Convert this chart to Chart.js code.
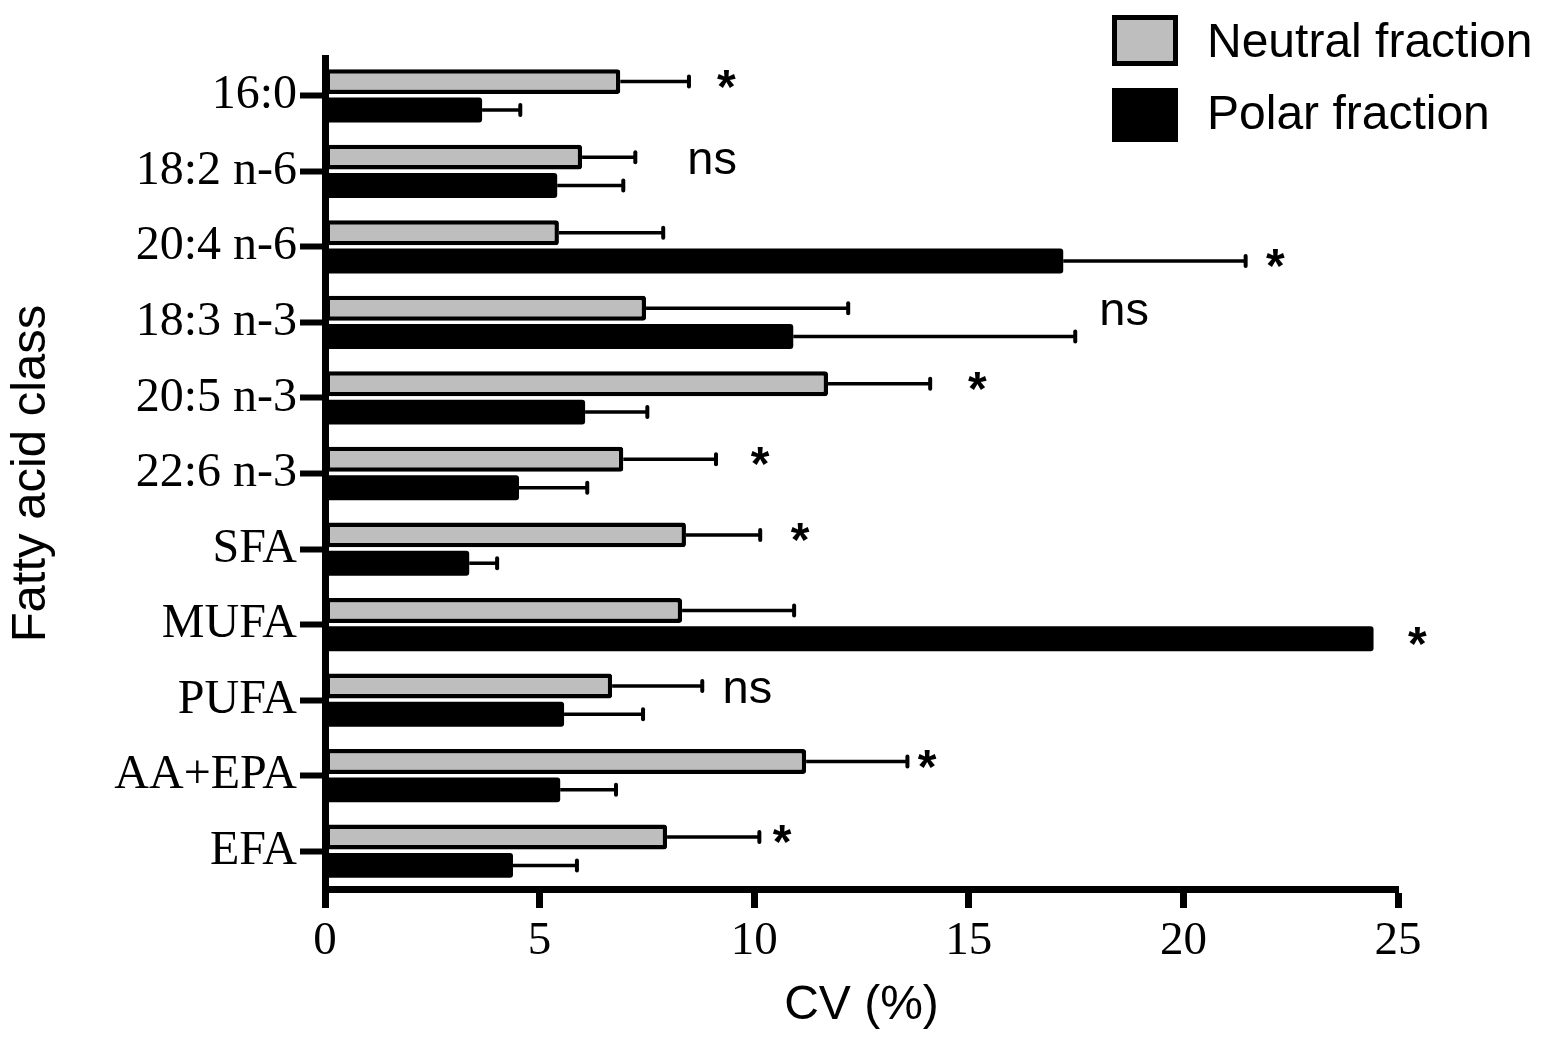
<!DOCTYPE html>
<html>
<head>
<meta charset="utf-8">
<script src="https://cdn.jsdelivr.net/npm/chart.js@4"></script>
<style>
  body { margin: 0; background: #fff; }
  #wrap { width: 1543px; height: 1037px; }
</style>
</head>
<body>
<div id="wrap"><canvas id="myChart"></canvas></div>
<script>
const classes = ['16:0', '18:2 n-6', '20:4 n-6', '18:3 n-3', '20:5 n-3', '22:6 n-3', 'SFA', 'MUFA', 'PUFA', 'AA+EPA', 'EFA'];
const neutralCV = [6.88, 5.99, 5.45, 7.48, 11.72, 6.95, 8.41, 8.32, 6.69, 11.21, 7.97];
const neutralSD = [1.60, 1.24, 2.43, 4.71, 2.38, 2.16, 1.73, 2.61, 2.10, 2.36, 2.15];
const polarCV = [3.66, 5.41, 17.2, 10.91, 6.06, 4.52, 3.36, 24.43, 5.57, 5.48, 4.38];
const polarSD = [0.89, 1.54, 4.25, 6.57, 1.45, 1.59, 0.65, 0, 1.84, 1.30, 1.49];

// significance marks: text, x position (CV units), row ('n' neutral, 'p' polar, 'm' between)
const sigText = ['*', 'ns', '*', 'ns', '*', '*', '*', '*', 'ns', '*', '*'];
const sigAt = [9.35, 9.02, 22.14, 18.62, 15.2, 10.14, 11.07, 25.45, 9.84, 14.03, 10.65];
const sigRow = ['n', 'm', 'p', 'm', 'n', 'n', 'n', 'p', 'm', 'n', 'n'];

const sans = 'Liberation Sans';
const serif = 'Liberation Serif';

const errorBars = {
  id: 'errorBars',
  afterDatasetsDraw(chart) {
    const ctx = chart.ctx;
    const xs = chart.scales.x;
    const sds = [neutralSD, polarSD];
    ctx.save();
    ctx.strokeStyle = '#000';
    chart.data.datasets.forEach((ds, d) => {
      chart.getDatasetMeta(d).data.forEach((bar, i) => {
        if (!sds[d][i]) return;
        const x1 = bar.x;
        const x2 = xs.getPixelForValue(ds.data[i] + sds[d][i]);
        const y = bar.y;
        ctx.lineWidth = 3.5;
        ctx.lineCap = 'butt';
        ctx.beginPath(); ctx.moveTo(x1, y); ctx.lineTo(x2, y); ctx.stroke();
        ctx.lineWidth = 4;
        ctx.lineCap = 'round';
        ctx.beginPath(); ctx.moveTo(x2, y - 5); ctx.lineTo(x2, y + 5); ctx.stroke();
      });
    });
    ctx.restore();
  }
};

const sigMarks = {
  id: 'sigMarks',
  afterDatasetsDraw(chart) {
    const ctx = chart.ctx;
    const xs = chart.scales.x, ys = chart.scales.y;
    const nMeta = chart.getDatasetMeta(0), pMeta = chart.getDatasetMeta(1);
    ctx.save();
    ctx.fillStyle = '#000';
    ctx.textAlign = 'center';
    ctx.textBaseline = 'alphabetic';
    sigText.forEach((t, i) => {
      let y;
      if (sigRow[i] === 'n') y = nMeta.data[i].y + 21;
      else if (sigRow[i] === 'p') y = pMeta.data[i].y + 21;
      else y = ys.getPixelForValue(i) + 3;
      ctx.font = (t === '*' ? 'bold 48px "' : '47px "') + sans + '"';
      ctx.fillText(t, xs.getPixelForValue(sigAt[i]), y);
    });
    ctx.restore();
  }
};

const boxLegend = {
  id: 'boxLegend',
  afterDraw(chart) {
    const ctx = chart.ctx;
    ctx.save();
    // neutral
    ctx.fillStyle = '#000';
    ctx.fillRect(1112, 15, 66, 51);
    ctx.fillStyle = '#bebebe';
    ctx.fillRect(1117, 20, 56, 41);
    // polar
    ctx.fillStyle = '#000';
    ctx.fillRect(1112, 88, 66, 54);
    ctx.font = '48px "' + sans + '"';
    ctx.textBaseline = 'alphabetic';
    ctx.textAlign = 'left';
    ctx.fillText(chart.data.datasets[0].label, 1207, 57);
    ctx.fillText(chart.data.datasets[1].label, 1207, 129);
    ctx.restore();
  }
};

const ctx1 = document.getElementById('myChart').getContext('2d');
const graph = new Chart(ctx1, {
  type: 'bar',
  data: {
    labels: classes,
    datasets: [{
      label: 'Neutral fraction',
      data: neutralCV,
      backgroundColor: '#bebebe',
      borderColor: '#000',
      borderWidth: 4.5,
      borderRadius: 3,
      borderSkipped: false
    }, {
      label: 'Polar fraction',
      data: polarCV,
      backgroundColor: '#000',
      borderWidth: 0,
      borderRadius: 3
    }]
  },
  options: {
    indexAxis: 'y',
    responsive: true,
    maintainAspectRatio: false,
    animation: false,
    categoryPercentage: 0.75,
    barPercentage: 0.88,
    layout: { padding: { top: 58, right: 145, left: 0, bottom: 0 } },
    plugins: { legend: { display: false }, tooltip: { enabled: false } },
    scales: {
      x: {
        min: 0,
        max: 25,
        ticks: { stepSize: 5, color: '#000', font: { family: serif, size: 47 }, padding: 5 },
        grid: { drawOnChartArea: false, drawTicks: true, tickLength: 19, tickWidth: 7, tickColor: '#000' },
        border: { color: '#000', width: 7 },
        title: {
          display: true,
          text: 'CV (%)',
          color: '#000',
          font: { family: sans, size: 48 },
          padding: { top: 0, bottom: 2 }
        },
        afterFit(s) { s.height = 148; }
      },
      y: {
        ticks: { color: '#000', font: { family: serif, size: 48 }, padding: 3, autoSkip: false },
        grid: { offset: false, drawOnChartArea: false, drawTicks: true, tickLength: 25, tickWidth: 6, tickColor: '#000' },
        border: { color: '#000', width: 7 },
        title: {
          display: true,
          text: 'Fatty acid class',
          color: '#000',
          font: { family: sans, size: 49 },
          padding: { top: 2, bottom: 0 }
        },
        afterFit(s) { s.width = 325; }
      }
    }
  },
  plugins: [errorBars, sigMarks, boxLegend]
});
</script>
</body>
</html>
